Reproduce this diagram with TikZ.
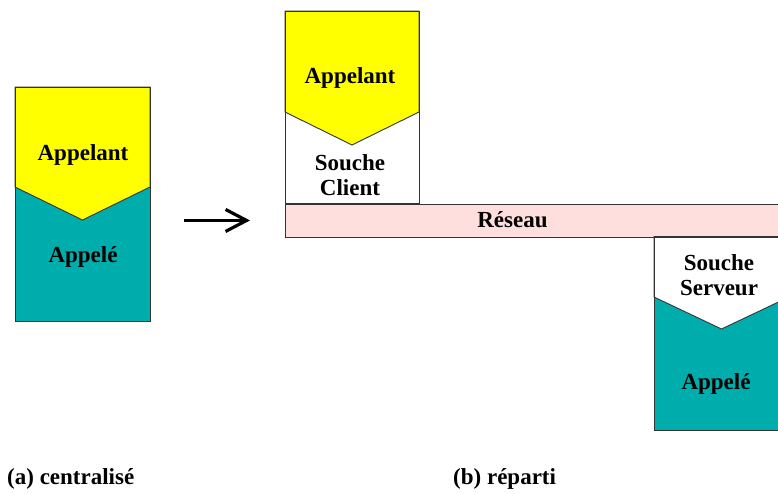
\documentclass[tikz,border=0pt]{standalone}
\usepackage{fontspec}
\setmainfont{Liberation Serif}
\usetikzlibrary{arrows.meta}
\definecolor{jaune}{RGB}{255,255,0}
\definecolor{sarcelle}{RGB}{0,173,173}
\definecolor{rose}{RGB}{255,222,222}
\tikzstyle{cadre} = [rectangle, draw=black!80, line width=0.9pt, inner sep=0pt]
\tikzstyle{contour} = [draw=black!80, line width=0.9pt]
\tikzstyle{etiquette} = [font=\fontsize{23}{24.5}\selectfont\bfseries, inner sep=0pt, align=center]
\tikzstyle{fleche} = [line width=3.2pt, -{Straight Barb[length=21pt,width=22pt]}]

\begin{document}
\begin{tikzpicture}[x=1pt,y=-1pt]
\useasboundingbox (0,0) rectangle (778,493);
\clip (0,0) rectangle (778,493);
% (a) centralise
\fill [sarcelle] (15,87) rectangle (150,321);
\filldraw [fill=jaune, contour] (15,87) -- (150,87) -- (150,187) -- (82.5,220) -- (15,187) -- cycle;
\node (centralise) [cadre, minimum width=135pt, minimum height=234pt] at (82.5,204) {};
\node (appelantA) [etiquette, anchor=base] at (83,160) {Appelant};
\node (appeleA) [etiquette, anchor=base] at (83,262) {Appelé};

% (b) reparti
\fill [white] (285,11) rectangle (419,203.5);
\filldraw [fill=jaune, contour] (285,11) -- (419,11) -- (419,112) -- (352,145) -- (285,112) -- cycle;
\node (client) [cadre, minimum width=134pt, minimum height=192.5pt] at (352,107.25) {};
\node (appelantB) [etiquette, anchor=base] at (350,83) {Appelant};
\node (souchec) [etiquette, anchor=base] at (350,195) {Souche\\Client};

\node (reseau) [cadre, fill=rose, minimum width=520pt, minimum height=33pt, anchor=north west] at (285,203.5) {};
\node (reseautxt) [etiquette, anchor=base] at (512.5,227) {Réseau};

\fill [sarcelle] (654,236.5) rectangle (789,430);
\filldraw [fill=white, contour] (654,236.5) -- (789,236.5) -- (789,297) -- (721.5,329) -- (654,297) -- cycle;
\node (serveur) [cadre, minimum width=135pt, minimum height=193.5pt, anchor=north west] at (654,236.5) {};
\node (souches) [etiquette, anchor=base] at (719,295) {Souche\\Serveur};
\node (appeleB) [etiquette, anchor=base] at (716,389) {Appelé};

\draw [fleche, shorten <=34pt, shorten >=35pt] (centralise.east |- reseau.west) -- (reseau.west);

\node (legendeA) [etiquette, anchor=base west] at (7,484) {(a) centralisé};
\node (legendeB) [etiquette, anchor=base west] at (453,484) {(b) réparti};
\end{tikzpicture}
\end{document}
